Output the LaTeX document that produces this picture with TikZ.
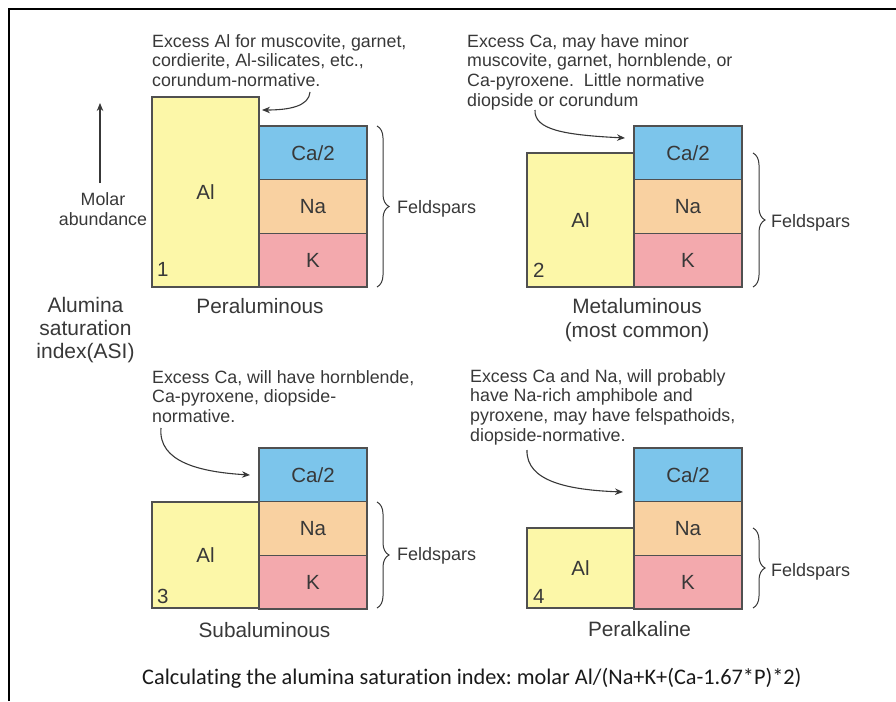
\documentclass[tikz,border=0pt]{standalone}
\usepackage{fontspec}
\setmainfont{Liberation Sans}
\newfontfamily\calfont[Ligatures={NoCommon}]{Carlito}
\usetikzlibrary{arrows.meta,decorations.pathreplacing}
\definecolor{alfill}{HTML}{FCF7A8}
\definecolor{cafill}{HTML}{7CC5EB}
\definecolor{nafill}{HTML}{F9D1A1}
\definecolor{kfill}{HTML}{F3A9AD}
\definecolor{bord}{HTML}{505050}
\definecolor{txt}{HTML}{383838}
\frenchspacing
\begin{document}
\begin{tikzpicture}[x=1pt,y=-1pt,
 bx/.style={draw=bord, line width=1.3pt, inner sep=0pt, outer sep=0pt, anchor=north west, text=txt, font=\fontsize{20.5}{24}\selectfont},
 alb/.style={bx, fill=alfill, minimum width=107pt},
 fb/.style={bx, minimum width=108pt, minimum height=53.7pt},
 cab/.style={fb, fill=cafill},
 nab/.style={fb, fill=nafill},
 kb/.style={fb, fill=kfill},
 num/.style={anchor=base west, inner sep=0pt, text=txt, font=\fontsize{20.5}{24}\selectfont},
 ann/.style={anchor=north west, align=left, inner sep=0pt, text=txt, font=\fontsize{17.8}{19.7}\selectfont},
 ttl/.style={anchor=north, align=center, inner sep=0pt, text=txt, font=\fontsize{20.8}{24}\selectfont},
 fld/.style={anchor=base west, inner sep=0pt, text=txt, font=\fontsize{18}{20}\selectfont},
 arr/.style={draw=txt, line width=1.1pt, -{Stealth[length=8pt,width=6.5pt]}},
 brc/.style={draw=txt, line width=1pt, decorate, decoration={brace, amplitude=12pt}},
]
\useasboundingbox (0,0) rectangle (896,701);
% frame
\draw[line width=2pt, black] (9,701) -- (9,9) -- (896,9);

% left labels
\node[ttl, font=\fontsize{17.8}{20}\selectfont] (molar) at (103,192) {Molar\\abundance};
\coordinate (mA) at (100,183);
\coordinate (mB) at (100,103);
\draw[arr] (mA) -- (mB);
\node[ttl, font=\fontsize{21}{23}\selectfont] (asi) at (85.5,297) {Alumina\\saturation\\index(ASI)};

% ---------- panel 1 ----------
\node[alb, minimum height=190pt] (al1) at (152,97) {Al};
\node[cab] (ca1) at (259,126) {Ca/2};
\node[nab] (na1) at (ca1.south west) {Na};
\node[kb] (k1) at (na1.south west) {K};
\node[num] (n1) at (157,276) {1};
\node[ttl] (t1) at (260,298) {Peraluminous};
\coordinate (b1a) at (377,126);
\coordinate (b1b) at (377,287);
\draw[brc] (b1a) -- (b1b);
\node[fld] (f1) at (397,213) {Feldspars};
\node[ann] (a1) at (152,34) {Excess Al for muscovite, garnet,\\cordierite, Al-silicates, etc.,\\corundum-normative.};
\coordinate (p1s) at (310,92);
\coordinate (p1e) at (262,110);
\draw[arr] (p1s) .. controls (309,106) and (290,110) .. (p1e);

% ---------- panel 2 ----------
\node[alb, minimum height=134pt] (al2) at (527,153) {Al};
\node[cab] (ca2) at (634,126) {Ca/2};
\node[nab] (na2) at (ca2.south west) {Na};
\node[kb] (k2) at (na2.south west) {K};
\node[num] (n2) at (533,277) {2};
\node[ttl] (t2) at (637,298) {Metaluminous\\(most common)};
\coordinate (b2a) at (753,153);
\coordinate (b2b) at (753,287);
\draw[brc] (b2a) -- (b2b);
\node[fld] (f2) at (771,227) {Feldspars};
\node[ann] (a2) at (467,34) {Excess Ca, may have minor\\muscovite, garnet, hornblende, or\\Ca-pyroxene.\ \ Little normative\\diopside or corundum};
\coordinate (p2s) at (535,110);
\coordinate (p2e) at (625,138);
\draw[arr] (p2s) .. controls (534,130) and (565,135) .. (p2e);

% ---------- panel 3 ----------
\node[alb, minimum height=106pt] (al3) at (152,502) {Al};
\node[cab] (ca3) at (259,448) {Ca/2};
\node[nab] (na3) at (ca3.south west) {Na};
\node[kb] (k3) at (na3.south west) {K};
\node[num] (n3) at (157,603) {3};
\node[ttl] (t3) at (264.5,622) {Subaluminous};
\coordinate (b3a) at (377,502);
\coordinate (b3b) at (377,608);
\draw[brc] (b3a) -- (b3b);
\node[fld] (f3) at (397,560) {Feldspars};
\node[ann] (a3) at (152,370) {Excess Ca, will have hornblende,\\Ca-pyroxene, diopside-\\normative.};
\coordinate (p3s) at (161,428);
\coordinate (p3e) at (250,475);
\draw[arr] (p3s) .. controls (158,462) and (200,472) .. (p3e);

% ---------- panel 4 ----------
\node[alb, minimum height=80pt] (al4) at (527,528) {Al};
\node[cab] (ca4) at (634,448) {Ca/2};
\node[nab] (na4) at (ca4.south west) {Na};
\node[kb] (k4) at (na4.south west) {K};
\node[num] (n4) at (533,603) {4};
\node[ttl] (t4) at (639.5,621) {Peralkaline};
\coordinate (b4a) at (753,528);
\coordinate (b4b) at (753,608);
\draw[brc] (b4a) -- (b4b);
\node[fld] (f4) at (771,576) {Feldspars};
\node[ann] (a4) at (470,369) {Excess Ca and Na, will probably\\have Na-rich amphibole and\\pyroxene, may have felspathoids,\\diopside-normative.};
\coordinate (p4s) at (527,450);
\coordinate (p4e) at (623,492);
\draw[arr] (p4s) .. controls (526,482) and (570,490) .. (p4e);

% bottom formula
\node[anchor=base west, inner sep=0pt, text=black!90, font=\calfont\fontsize{22.3}{24}\selectfont] (calc) at (142,684) {Calculating the alumina saturation index: molar Al/(Na+K+(Ca-1.67*P)*2)};
\end{tikzpicture}
\end{document}
